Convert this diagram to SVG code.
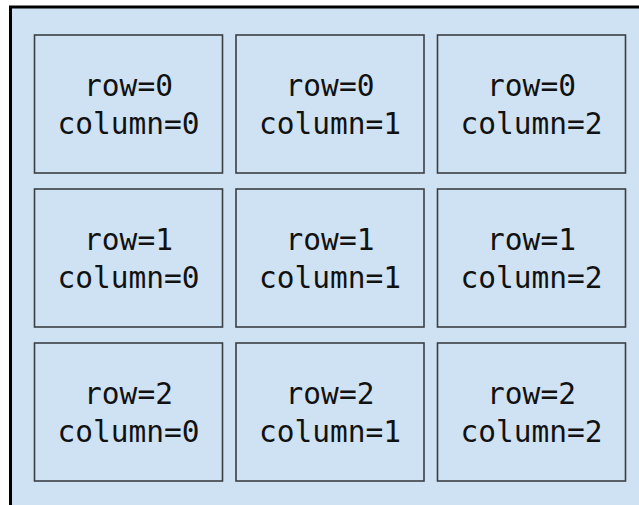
<svg xmlns="http://www.w3.org/2000/svg" width="639" height="505" viewBox="0 0 639 505">
<style>
.cell rect{fill:#cfe2f3;stroke:#3a3f44;stroke-width:1.6}
.cell text{font-family:"DejaVu Sans Mono","Liberation Mono",monospace;font-size:29.5px;fill:#111;text-anchor:middle}
</style>
<rect x="0" y="0" width="639" height="505" fill="#ffffff"/>
<path d="M10.5,505 V7 H639 V505 Z" fill="#cfe2f3"/>
<path d="M10.5,505 V7 H639" fill="none" stroke="#000" stroke-width="3"/>
<g id="cell-0-0" class="cell"><rect x="34.5" y="35" width="188" height="138"/><text x="128.5" y="96">row=0</text><text x="128.5" y="133.5">column=0</text></g>
<g id="cell-0-1" class="cell"><rect x="236" y="35" width="188" height="138"/><text x="330" y="96">row=0</text><text x="330" y="133.5">column=1</text></g>
<g id="cell-0-2" class="cell"><rect x="437.5" y="35" width="188" height="138"/><text x="531.5" y="96">row=0</text><text x="531.5" y="133.5">column=2</text></g>
<g id="cell-1-0" class="cell"><rect x="34.5" y="189" width="188" height="138"/><text x="128.5" y="250">row=1</text><text x="128.5" y="287.5">column=0</text></g>
<g id="cell-1-1" class="cell"><rect x="236" y="189" width="188" height="138"/><text x="330" y="250">row=1</text><text x="330" y="287.5">column=1</text></g>
<g id="cell-1-2" class="cell"><rect x="437.5" y="189" width="188" height="138"/><text x="531.5" y="250">row=1</text><text x="531.5" y="287.5">column=2</text></g>
<g id="cell-2-0" class="cell"><rect x="34.5" y="343" width="188" height="138"/><text x="128.5" y="404">row=2</text><text x="128.5" y="441.5">column=0</text></g>
<g id="cell-2-1" class="cell"><rect x="236" y="343" width="188" height="138"/><text x="330" y="404">row=2</text><text x="330" y="441.5">column=1</text></g>
<g id="cell-2-2" class="cell"><rect x="437.5" y="343" width="188" height="138"/><text x="531.5" y="404">row=2</text><text x="531.5" y="441.5">column=2</text></g>
<g id="connectors"/>
</svg>
